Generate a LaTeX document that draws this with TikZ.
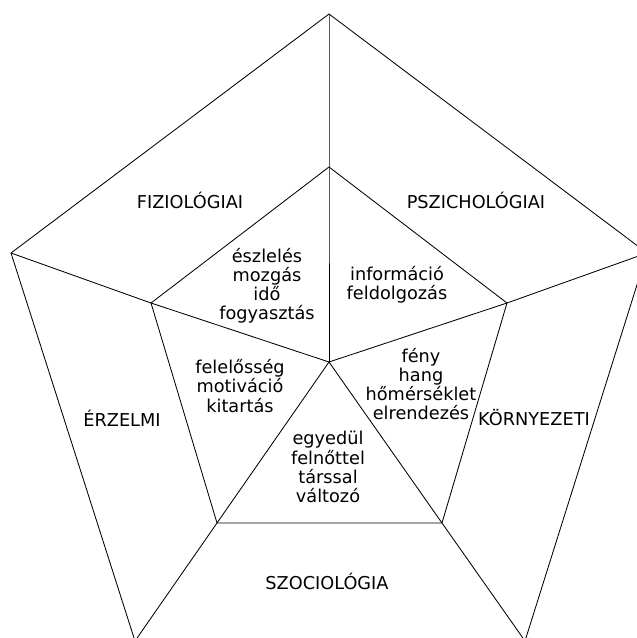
\documentclass[tikz,border=0pt]{standalone}
\usepackage{fontspec}
\setmainfont{DejaVu Sans}
\usepackage{tikz}

\begin{document}
\begin{tikzpicture}[x=0.025cm,y=-0.025cm,line width=0.6pt,
  lab/.style={font=\fontsize{12.6}{14}\selectfont},
  itm/.style={font=\fontsize{12.6}{13.6}\selectfont, align=center, inner sep=0pt}]
\useasboundingbox (0,0) rectangle (637,638);
\clip (0,0) rectangle (637,638);
%OUTER
\coordinate (otop) at (329,14);
\coordinate (oright) at (647,253);
\coordinate (obr) at (525,641);
\coordinate (obl) at (135,641);
\coordinate (oleft) at (11,253);
%INNER
\coordinate (itop) at (329,167);
\coordinate (iright) at (507,303);
\coordinate (ibr) at (442,523);
\coordinate (ibl) at (217,523);
\coordinate (ileft) at (151,303);
\coordinate (mid) at (329,362);
% Frame
\draw (obl) -- (oleft) -- (otop) -- (oright) -- (obr);
\draw (itop) -- (iright) -- (ibr) -- (ibl) -- (ileft) -- cycle;
% Spokes
\draw (otop) -- (itop) -- (mid);
\draw (oleft) -- (ileft) -- (mid);
\draw (oright) -- (iright) -- (mid);
\draw (obr) -- (ibr) -- (mid);
\draw (obl) -- (ibl) -- (mid);
% Outer labels
\node[lab] (fiz) at (190,200) {FIZIOLÓGIAI};
\node[lab] (psz) at (476,200) {PSZICHOLÓGIAI};
\node[lab] (erz) at (122,418) {ÉRZELMI};
\node[lab] (kor) at (534,418) {KÖRNYEZETI};
\node[lab] (szo) at (327,581) {SZOCIOLÓGIA};
% Inner labels
\node[itm] (eszl) at (267,286) {észlelés\\mozgás\\idő\\fogyasztás};
\node[itm] (info) at (397,285) {információ\\feldolgozás};
\node[itm] (fele) at (240,386) {felelősség\\motiváció\\kitartás};
\node[itm] (feny) at (421,384) {fény\\hang\\hőmérséklet\\elrendezés};
\node[itm] (egye) at (328,467) {egyedül\\felnőttel\\társsal\\változó};
\end{tikzpicture}
\end{document}
